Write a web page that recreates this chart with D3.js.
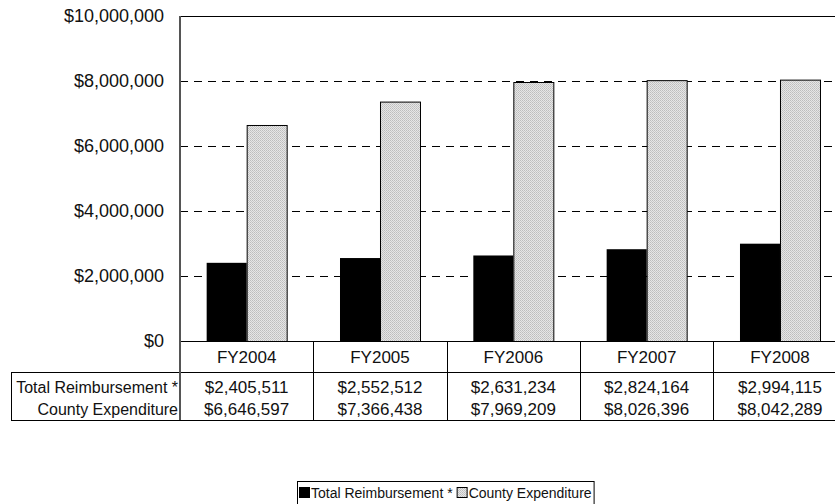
<!DOCTYPE html>
<html><head><meta charset="utf-8">
<script src="https://cdn.jsdelivr.net/npm/d3@7"></script>
<style>body{margin:0;background:#fff}svg{display:block}text{font-family:"Liberation Sans",Arial,sans-serif;fill:#111}</style>
</head><body>
<svg id="c" width="835" height="504"></svg>
<script>
const categories = ["FY2004","FY2005","FY2006","FY2007","FY2008"];
const seriesNames = ["Total Reimbursement *","County Expenditure"];
const reimbursement = [2405511,2552512,2631234,2824164,2994115];
const expenditure = [6646597,7366438,7969209,8026396,8042289];
const yTicks = [0,2000000,4000000,6000000,8000000,10000000];

(function(){
const svg = d3.select("#c");
const defs = svg.append("defs");
const pat = defs.append("pattern").attr("id","dots").attr("width",2).attr("height",2).attr("patternUnits","userSpaceOnUse");
pat.append("rect").attr("width",2).attr("height",2).attr("fill","#e6e6e6");
pat.append("rect").attr("width",1).attr("height",1).attr("fill","#bdbdbd");
pat.append("rect").attr("x",1).attr("y",1).attr("width",1).attr("height",1).attr("fill","#c8c8c8");

const pLeft = 180, pTop = 16, pBottom = 341, catW = 133.33;
const W = 835;
const x = d3.scaleBand().domain(categories).range([pLeft, pLeft + catW*categories.length]).paddingInner(0).paddingOuter(0);
const y = d3.scaleLinear().domain([0,10000000]).range([pBottom, pTop]);
const fmt = v => "$" + d3.format(",")(v);

// gridlines
svg.append("g").selectAll("line").data(yTicks.filter(t=>t>0 && t<10000000)).join("line")
  .attr("x1",pLeft).attr("x2",W).attr("y1",d=>Math.round(y(d))+0.5).attr("y2",d=>Math.round(y(d))+0.5)
  .attr("stroke","#000").attr("stroke-dasharray","8,6");
// top border
svg.append("line").attr("x1",pLeft).attr("x2",W).attr("y1",Math.round(y(10000000))+0.5).attr("y2",Math.round(y(10000000))+0.5).attr("stroke","#000");

// y labels
svg.append("g").selectAll("text").data(yTicks).join("text")
  .attr("x",164).attr("y",d=>y(d)).attr("dy","0.35em").attr("text-anchor","end")
  .style("font-size","18px").text(d=>fmt(d));

// bars
const barW = 40, off = (catW - 2*barW)/2;
svg.append("g").selectAll("rect").data(categories).join("rect")
  .attr("x",d=>x(d)+off).attr("width",barW)
  .attr("y",(d,i)=>y(reimbursement[i])).attr("height",(d,i)=>pBottom - y(reimbursement[i]))
  .attr("fill","#000");
svg.append("g").selectAll("rect").data(categories).join("rect")
  .attr("x",d=>x(d)+off+barW+0.5).attr("width",barW)
  .attr("y",(d,i)=>y(expenditure[i])+0.5).attr("height",(d,i)=>pBottom - y(expenditure[i]))
  .attr("fill","url(#dots)").attr("stroke","#000").attr("stroke-width",1);

// table
const rowTop = 372, rowCy = [387, 409], tblBottom = 420, tblLeft = 11;
const g = svg.append("g").attr("stroke","#000").attr("shape-rendering","crispEdges");
g.append("line").attr("x1",pLeft).attr("x2",W).attr("y1",pBottom).attr("y2",pBottom);
g.append("line").attr("x1",tblLeft).attr("x2",W).attr("y1",rowTop).attr("y2",rowTop);
g.append("line").attr("x1",tblLeft).attr("x2",W).attr("y1",tblBottom).attr("y2",tblBottom);
g.append("line").attr("x1",tblLeft).attr("x2",tblLeft).attr("y1",rowTop).attr("y2",tblBottom);
g.append("line").attr("x1",pLeft).attr("x2",pLeft).attr("y1",pTop).attr("y2",tblBottom).attr("stroke","#555").attr("stroke-width",2);
g.selectAll(".v").data(categories.slice(1)).join("line").attr("class","v")
  .attr("x1",d=>Math.round(x(d))).attr("x2",d=>Math.round(x(d))).attr("y1",pBottom).attr("y2",tblBottom);

svg.append("g").selectAll("text").data(categories).join("text")
  .attr("x",d=>x(d)+catW/2).attr("y",(pBottom+rowTop)/2+0.5).attr("dy","0.35em").attr("text-anchor","middle")
  .style("font-size","17px").text(d=>d);
const rows = [reimbursement, expenditure];
rows.forEach((r,ri)=>{
  const cy = rowCy[ri];
  svg.append("text").attr("x",178).attr("y",cy).attr("dy","0.35em").attr("text-anchor","end").style("font-size","16px").text(seriesNames[ri]);
  svg.append("g").selectAll("text").data(categories).join("text")
    .attr("x",d=>x(d)+catW/2).attr("y",cy).attr("dy","0.35em").attr("text-anchor","middle")
    .style("font-size","17px").text((d,i)=>fmt(r[i]));
});

// legend
const lg = svg.append("g");
const lx = 297, ly = 481;
const box = lg.append("rect").attr("x",lx+0.5).attr("y",ly+0.5).attr("height",30).attr("fill","#fff").attr("stroke","#000");
let cx = lx + 2;
seriesNames.forEach((n,i)=>{
  lg.append("rect").attr("x",cx+0.5).attr("y",ly+6.5).attr("width",10).attr("height",10)
    .attr("fill", i===0 ? "#000" : "url(#dots)").attr("stroke","#000");
  const t = lg.append("text").attr("x",cx+12).attr("y",ly+12).attr("dy","0.35em").style("font-size","14px").text(n);
  cx += 12 + t.node().getComputedTextLength() + (i===0 ? 4 : 1);
});
box.attr("width", cx - lx + 1);
})();
</script>
</body></html>
